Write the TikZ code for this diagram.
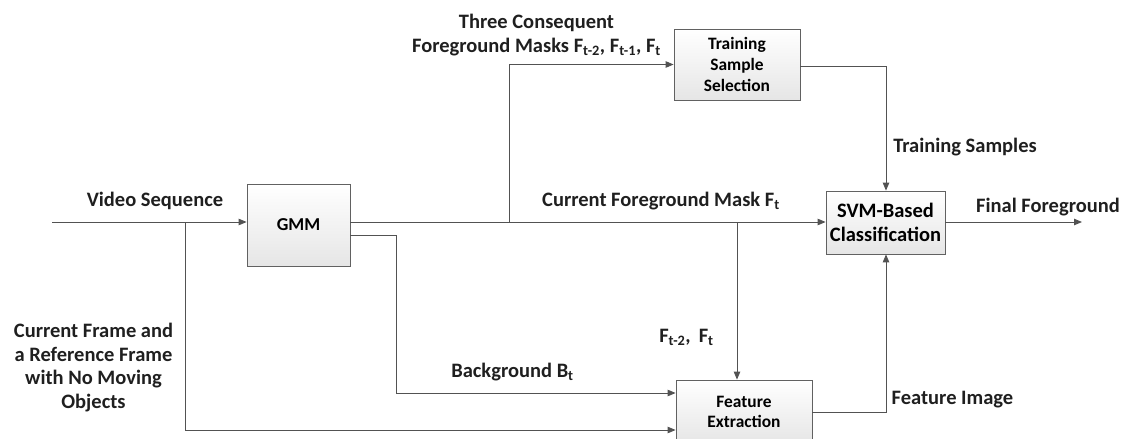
\documentclass[tikz,border=0pt]{standalone}
\usepackage{fontspec}
\setmainfont{Carlito}
\usetikzlibrary{arrows.meta,shadows}
\begin{document}
\begin{tikzpicture}[x=1pt,y=-1pt,
  ln/.style={draw=black!68, line width=0.9pt},
  arr/.style={ln, -{Triangle[length=8pt,width=6.5pt]}},
  blk/.style={draw=black!62, line width=0.8pt, top color=white, bottom color=black!10,
    drop shadow={shadow xshift=1.2pt, shadow yshift=-1.2pt, opacity=0.25},
    align=center, inner sep=0pt, font=\bfseries\fontsize{17.4}{20.7}\selectfont},
  lbl/.style={font=\bfseries\fontsize{20.5}{23.5}\selectfont, inner sep=0pt, text=black!88}
]
\clip (0,0) rectangle (1136,439);
\useasboundingbox (0,0) rectangle (1136,439);
% blocks
\node[blk, minimum width=103pt, minimum height=82pt, font=\bfseries\fontsize{18.2}{22}\selectfont] (gmm) at (298.5,225) {GMM};
\node[blk, minimum width=126pt, minimum height=71pt] (tss) at (737,64.5) {Training\\Sample\\Selection};
\node[blk, minimum width=119pt, minimum height=63pt, font=\bfseries\fontsize{20.5}{24}\selectfont] (svm) at (885.5,222.5) {SVM-Based\\Classification};
\node[blk, minimum width=136pt, minimum height=64pt] (fe) at (744,412) {Feature\\Extraction};
% coordinates
\coordinate (in) at (52,222);
\coordinate (s1) at (185,222);
\coordinate (b1) at (509,222);
\coordinate (b2) at (737,222);
\coordinate (g2) at (350,235);
\coordinate (c1) at (396,235);
\coordinate (c2) at (886,66);
\coordinate (out) at (1082,222);
% connectors
\draw[arr] (in) -- (in -| gmm.west);
\draw[arr] (s1) |- ([yshift=-18pt]fe.west);
\draw[arr] (gmm.east |- in) -- (svm.west |- in);
\draw[arr] (b1) |- (tss.west);
\draw[arr] (g2) -| (c1) |- ([yshift=19pt]fe.west);
\draw[arr] (b2) -- (b2 |- fe.north);
\draw[arr] (tss.east |- c2) -| (c2 |- svm.north);
\draw[arr] (fe.east) -| (c2 |- svm.south);
\draw[arr] (svm.east |- in) -- (out);
% labels
\node[lbl] (l1) at (155,201) {Video Sequence};
\node[lbl, align=center] (l2) at (93.5,367.5) {Current Frame and\\a Reference Frame\\with No Moving\\Objects};
\node[lbl, align=center] (l3) at (536.5,35) {Three Consequent\\Foreground Masks F\textsubscript{t-2}, F\textsubscript{t-1}, F\textsubscript{t}};
\node[lbl] (l4) at (661,201) {Current Foreground Mask F\textsubscript{t}};
\node[lbl] (l5) at (965,147) {Training Samples};
\node[lbl] (l6) at (1048,207) {Final Foreground};
\node[lbl] (l7) at (512.5,372) {Background B\textsubscript{t}};
\node[lbl] (l8) at (686.5,337) {F\textsubscript{t-2},\, F\textsubscript{t}};
\node[lbl] (l9) at (952.5,400) {Feature Image};
\end{tikzpicture}
\end{document}
